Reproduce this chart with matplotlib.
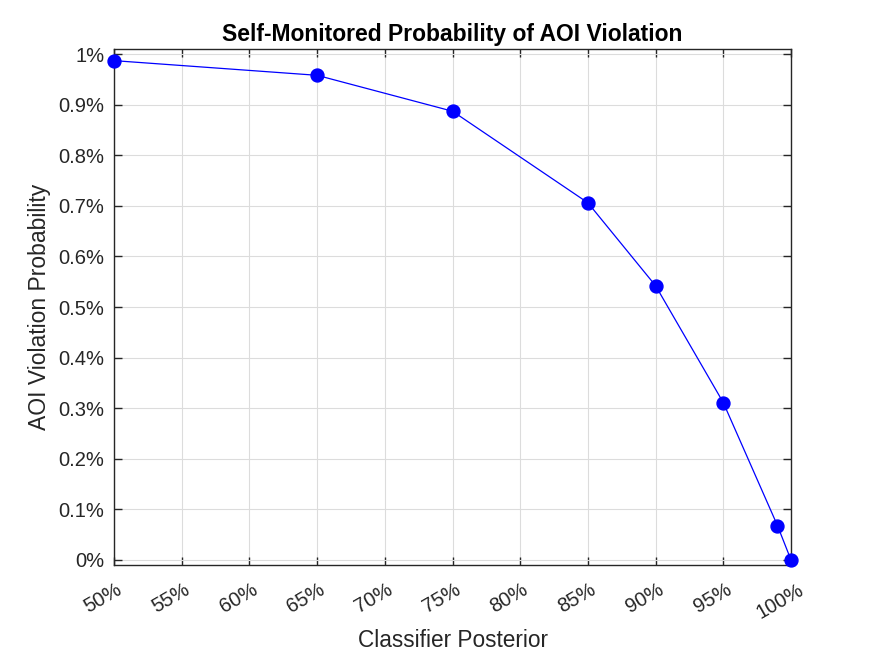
import matplotlib.pyplot as plt
import matplotlib.transforms as mtransforms
from matplotlib.ticker import FuncFormatter

# classifier posterior (%) vs AOI violation probability (%)
posterior = [50, 65, 75, 85, 90, 95, 99, 100]
violation = [0.987, 0.958, 0.887, 0.706, 0.542, 0.311, 0.068, 0.0]

xticks = [50, 55, 60, 65, 70, 75, 80, 85, 90, 95, 100]
yticks = [0, 0.1, 0.2, 0.3, 0.4, 0.5, 0.6, 0.7, 0.8, 0.9, 1.0]

plt.rcParams['font.family'] = ['Liberation Sans', 'DejaVu Sans']
dark = '#262626'

fig = plt.figure(figsize=(8.75, 6.56), dpi=100)
ax = fig.add_axes([0.1303, 0.1387, 0.7737, 0.7866])

ax.plot(posterior, violation, '-o', color='blue', lw=0.9,
        markersize=9.3, markerfacecolor='blue', markeredgecolor='blue', clip_on=False, zorder=3)

ax.set_xlim(50, 100)
ax.set_ylim(-0.01, 1.01)
ax.set_xticks(xticks)
ax.set_yticks(yticks)
ax.xaxis.set_major_formatter(FuncFormatter(lambda v, p: f'{v:g}%'))
ax.yaxis.set_major_formatter(FuncFormatter(lambda v, p: f'{v:g}%'))

ax.grid(True, color='#dcdcdc', lw=0.8)
ax.set_axisbelow(True)
ax.tick_params(direction='in', top=True, right=True, length=6, width=1,
               colors=dark, labelsize=14.5, labelcolor=dark)
ax.tick_params(axis='y', pad=7)
ax.tick_params(axis='x', pad=11)
shift = mtransforms.ScaledTranslation(-11 / 100, 0, fig.dpi_scale_trans)
for lbl in ax.get_xticklabels():
    lbl.set_rotation(30)
    lbl.set_ha('center')
    lbl.set_transform(lbl.get_transform() + shift)
for s in ax.spines.values():
    s.set_color(dark)
    s.set_linewidth(1)

ax.set_title('Self-Monitored Probability of AOI Violation', fontsize=16.5,
             fontweight='bold', color='black', pad=6)
ax.set_xlabel('Classifier Posterior', fontsize=16.3, color=dark, labelpad=5)
ax.set_ylabel('AOI Violation Probability', fontsize=16.5, color=dark, labelpad=5)

fig.savefig('out.png', dpi=100)
